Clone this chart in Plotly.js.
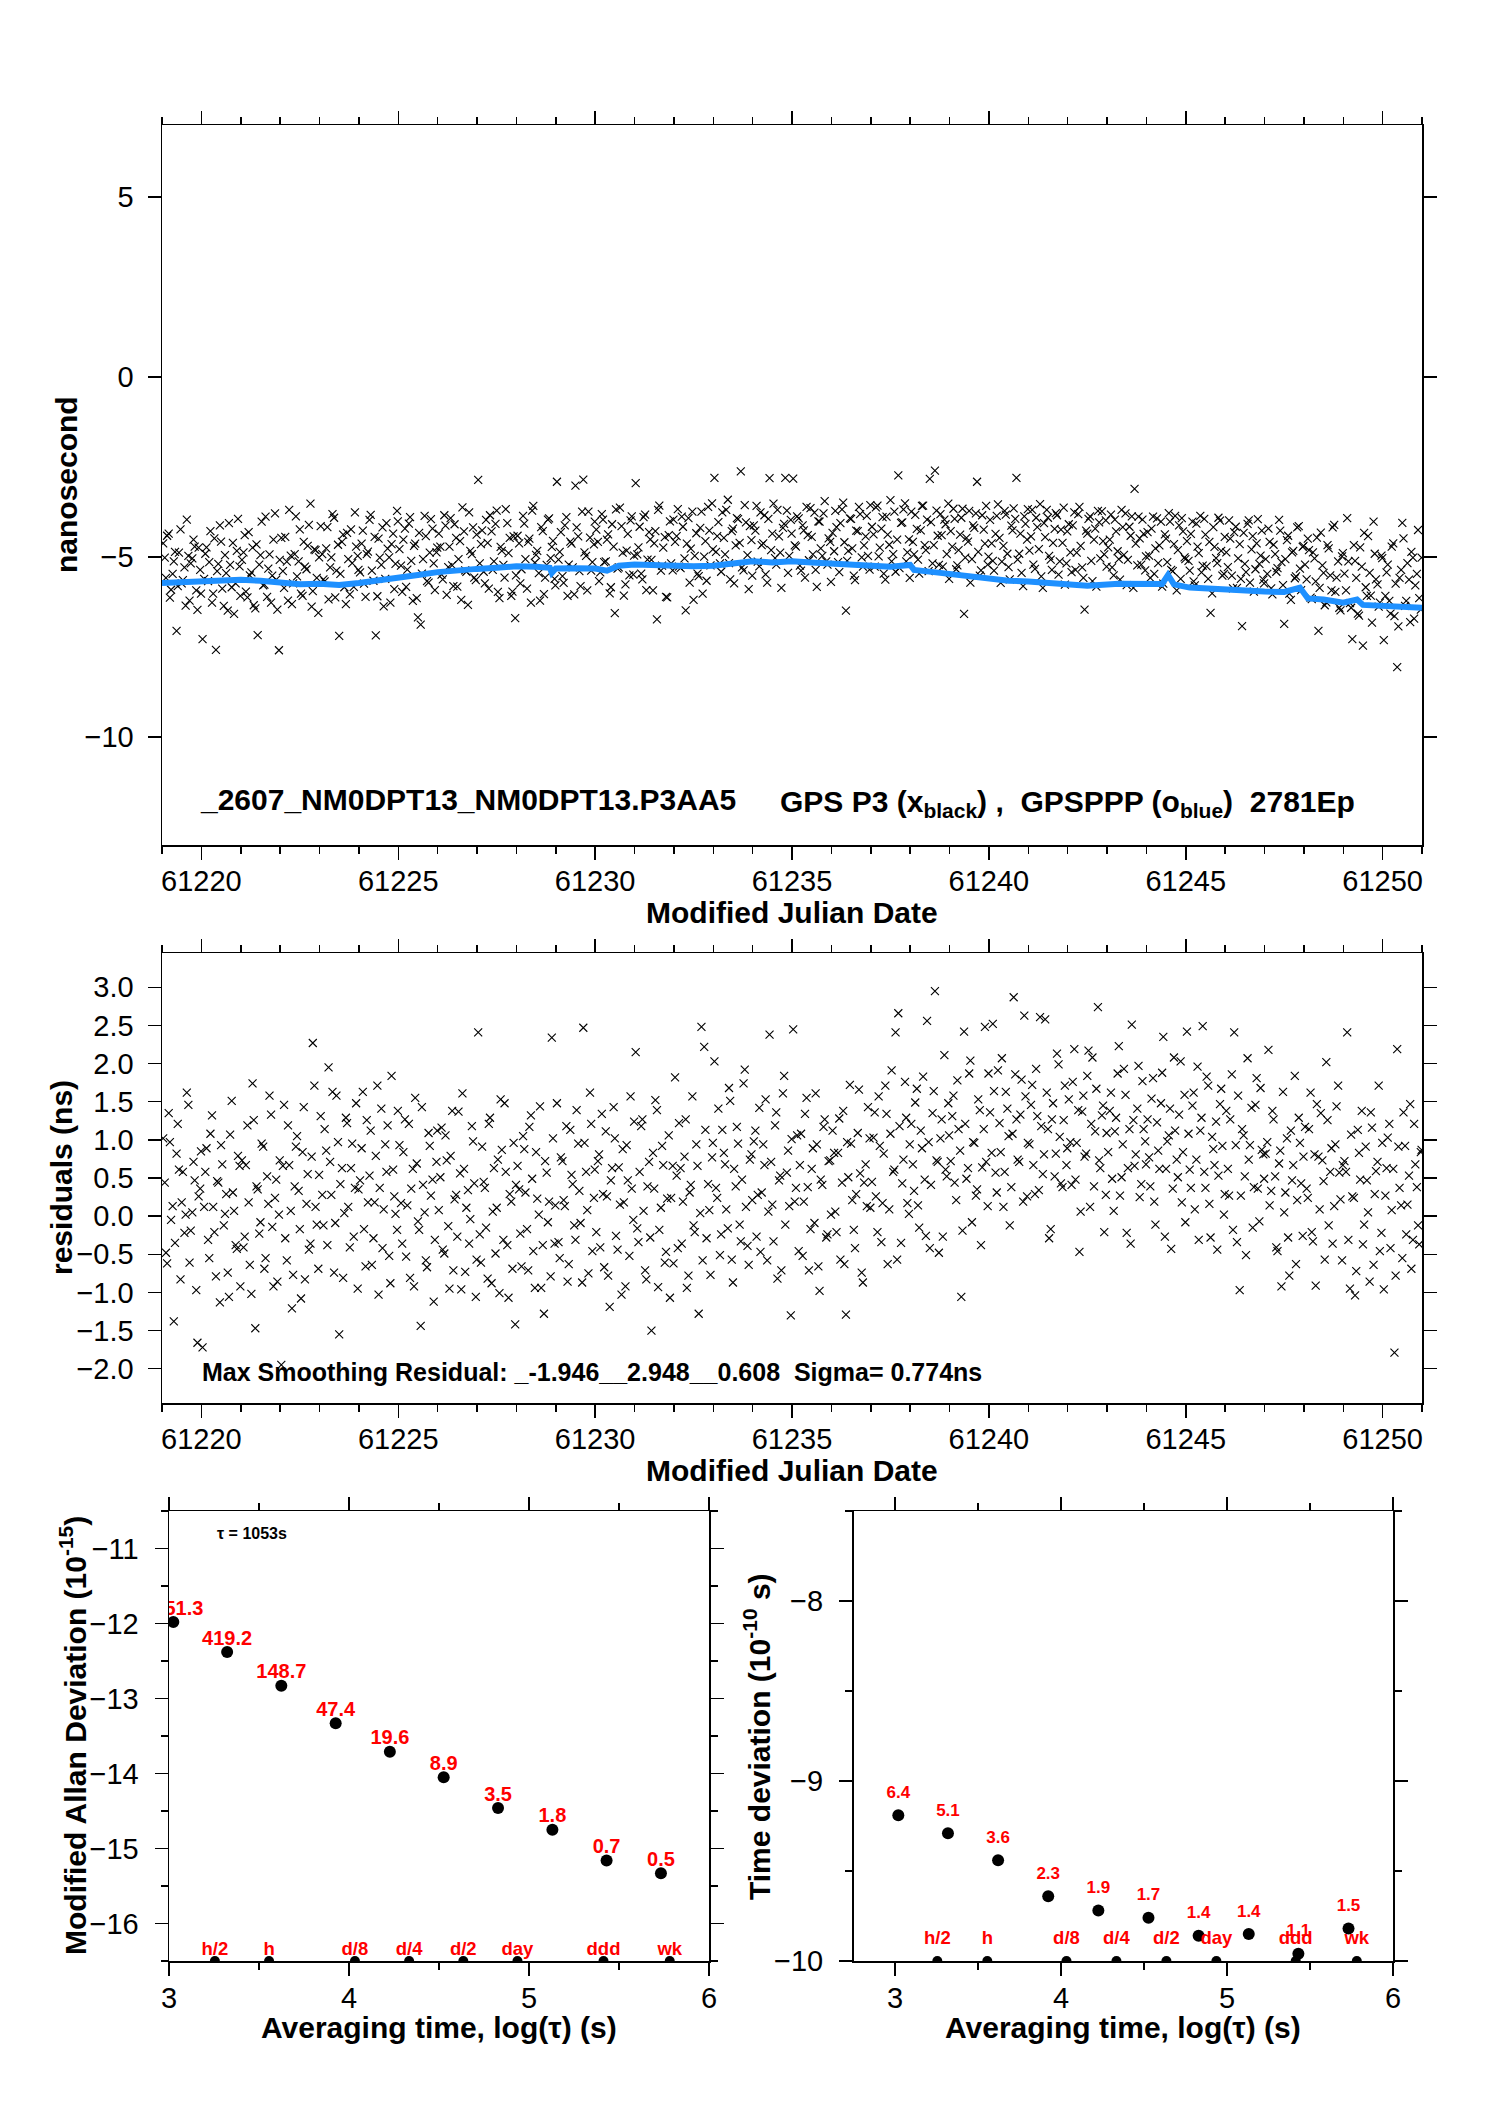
<!DOCTYPE html>
<html>
<head>
<meta charset="utf-8">
<script src="https://cdn.plot.ly/plotly-3.0.1.min.js"></script>
<style>
  html, body { margin: 0; padding: 0; background: #fff; }
  #chart { width: 1488px; height: 2105px; }
</style>
</head>
<body>
<div id="chart"></div>
<script>
// ---- epochs: one row per MJD day, two interleaved sets of 15 samples ----
var days = [61219, 61220, 61221, 61222, 61223, 61224, 61225, 61226, 61227, 61228, 61229,
            61230, 61231, 61232, 61233, 61234, 61235, 61236, 61237, 61238, 61239, 61240,
            61241, 61242, 61243, 61244, 61245, 61246, 61247, 61248, 61249, 61250];
var sampleFracA = [0.03, 0.10, 0.17, 0.23, 0.30, 0.37, 0.43, 0.50, 0.57, 0.63, 0.70, 0.77, 0.83, 0.90, 0.97];
var sampleFracB = [0.07, 0.13, 0.20, 0.27, 0.33, 0.40, 0.47, 0.53, 0.60, 0.67, 0.73, 0.80, 0.87, 0.93, 0.99];

// GPS P3 clock offsets (ns)
var p3RowsA = [
  [-4.62, -5.58, -4.35, -5.91, -5.12, -7.05, -4.88, -5.73, -5.29, -3.96, -6.21, -5.04, -4.71, -6.47, -5.36],
  [-7.28, -4.91, -5.67, -4.28, -6.02, -7.58, -5.19, -4.57, -6.36, -5.45, -4.06, -5.84, -6.58, -4.83, -5.26],
  [-5.08, -4.39, -6.12, -5.51, -4.74, -6.43, -7.17, -4.95, -5.79, -3.88, -5.32, -6.27, -4.52, -5.63, -7.59],
  [-4.47, -5.86, -5.13, -3.69, -6.31, -4.92, -5.54, -4.23, -6.08, -5.27, -4.69, -3.52, -5.95, -4.81, -6.55],
  [-4.14, -5.62, -4.76, -6.18, -5.01, -3.91, -5.38, -7.19, -4.58, -5.84, -4.33, -6.04, -5.17, -3.76, -4.97],
  [-5.43, -4.27, -6.11, -4.85, -3.83, -5.66, -7.18, -4.49, -5.22, -6.37, -4.06, -5.01, -4.64, -5.89, -3.72],
  [-4.78, -5.97, -4.21, -5.35, -3.89, -6.22, -4.63, -6.68, -6.88, -5.06, -4.42, -5.71, -3.95, -5.18, -4.87],
  [-4.35, -5.49, -3.84, -6.05, -4.71, -5.23, -4.09, -5.82, -4.56, -3.62, -5.37, -6.33, -4.83, -4.18, -5.64],
  [-2.86, -4.64, -5.41, -3.97, -5.88, -4.29, -5.12, -3.71, -6.14, -4.83, -5.57, -4.06, -4.47, -5.96, -6.70],
  [-4.41, -5.73, -3.86, -5.06, -4.58, -6.27, -3.58, -4.94, -5.45, -4.17, -6.03, -5.22, -3.93, -4.72, -5.61],
  [-2.91, -4.86, -5.53, -4.12, -6.08, -4.57, -5.29, -3.02, -4.43, -5.81, -2.85, -4.97, -3.74, -5.38, -4.65],
  [-4.24, -5.67, -3.81, -5.14, -4.52, -6.01, -4.09, -6.56, -5.32, -3.63, -4.88, -5.76, -4.36, -3.98, -5.49],
  [-2.95, -4.73, -5.46, -3.89, -5.92, -4.31, -5.08, -4.62, -6.73, -3.57, -5.24, -4.45, -6.12, -4.01, -5.37],
  [-4.58, -3.67, -5.31, -4.16, -6.48, -3.92, -4.77, -6.19, -4.34, -5.53, -3.74, -4.99, -5.66, -4.27, -3.51],
  [-2.80, -4.42, -5.18, -3.76, -4.93, -3.41, -5.62, -4.21, -4.68, -3.95, -2.62, -5.37, -4.04, -5.89, -4.53],
  [-4.12, -3.58, -5.26, -4.67, -3.84, -5.71, -2.81, -4.35, -5.03, -3.69, -4.88, -4.19, -2.80, -5.44, -3.97],
  [-2.82, -4.71, -3.93, -5.38, -4.26, -3.61, -5.09, -4.44, -3.77, -5.83, -4.02, -4.97, -3.45, -5.21, -4.58],
  [-4.33, -3.72, -5.14, -4.06, -3.49, -6.49, -4.83, -3.94, -5.52, -4.27, -3.61, -5.01, -4.68, -3.86, -5.35],
  [-4.16, -5.27, -3.57, -4.74, -3.89, -5.63, -4.38, -3.42, -4.92, -5.41, -2.73, -4.05, -3.68, -5.12, -4.51],
  [-3.74, -4.93, -4.22, -5.46, -3.58, -4.67, -3.96, -2.83, -5.18, -2.60, -4.41, -3.81, -5.27, -4.09, -3.52],
  [-4.28, -3.66, -5.34, -4.81, -3.91, -6.58, -4.47, -3.72, -5.06, -4.19, -2.91, -5.52, -3.84, -4.63, -5.21],
  [-3.97, -5.11, -4.36, -3.54, -5.72, -4.69, -3.82, -5.28, -4.13, -3.65, -2.80, -4.91, -5.44, -3.87, -4.52],
  [-4.82, -3.69, -5.33, -4.17, -3.53, -5.86, -4.45, -3.91, -5.07, -4.61, -3.78, -5.49, -4.24, -3.63, -5.18],
  [-4.09, -5.42, -3.76, -4.88, -3.61, -5.29, -6.46, -4.35, -3.87, -5.67, -4.21, -3.72, -5.04, -4.56, -3.98],
  [-4.73, -3.82, -5.51, -4.29, -5.06, -3.69, -4.94, -5.78, -4.16, -3.87, -3.11, -5.23, -4.48, -3.96, -5.37],
  [-4.31, -5.58, -3.88, -4.76, -5.17, -4.02, -5.74, -4.49, -3.78, -5.36, -4.64, -5.93, -4.12, -3.92, -5.01],
  [-4.56, -5.38, -4.02, -5.79, -4.71, -3.86, -5.24, -4.38, -5.61, -6.55, -4.17, -5.03, -3.91, -4.83, -5.47],
  [-4.87, -3.98, -5.52, -4.31, -5.86, -4.64, -6.92, -5.19, -4.08, -5.71, -4.42, -5.34, -3.95, -4.96, -5.63],
  [-5.06, -4.21, -5.87, -4.66, -5.41, -3.97, -5.14, -6.86, -4.53, -6.02, -4.87, -5.59, -4.18, -5.32, -4.72],
  [-5.21, -4.49, -6.13, -4.87, -5.68, -7.05, -4.32, -5.44, -6.26, -4.76, -5.93, -4.11, -5.57, -6.41, -4.98],
  [-5.46, -3.92, -6.28, -7.28, -5.11, -6.57, -4.73, -7.46, -5.84, -4.42, -6.07, -4.02, -5.62, -6.38, -4.96],
  [-7.31, -5.43, -6.22, -4.71, -6.64, -8.06, -5.58, -4.05, -6.36, -5.17, -6.81, -5.02, -5.79, -4.25, -6.46]
];
var p3RowsB = [
  [-5.02, -4.41, -6.13, -5.47, -4.86, -5.81, -4.23, -5.64, -6.35, -4.97, -5.18, -4.52, -5.93, -4.74, -6.02],
  [-5.61, -4.73, -5.14, -6.27, -4.48, -5.39, -4.12, -5.88, -4.95, -6.49, -5.22, -4.61, -5.73, -3.94, -6.08],
  [-4.87, -5.96, -4.31, -5.43, -6.34, -4.65, -5.21, -4.02, -5.77, -6.11, -4.93, -5.52, -3.79, -6.46, -5.08],
  [-5.39, -4.44, -6.21, -4.96, -5.73, -3.87, -5.12, -6.02, -4.58, -5.34, -4.11, -6.38, -4.79, -5.58, -5.01],
  [-4.92, -5.68, -4.17, -5.29, -3.81, -6.12, -4.66, -5.47, -4.38, -6.31, -5.06, -4.23, -5.83, -4.71, -5.36],
  [-4.63, -5.74, -4.92, -3.97, -5.38, -4.44, -6.09, -5.02, -4.18, -5.61, -4.77, -6.27, -4.35, -5.19, -4.01],
  [-5.24, -4.52, -5.83, -4.07, -5.11, -4.69, -6.14, -4.33, -5.46, -3.86, -5.67, -4.88, -4.21, -5.92, -4.74],
  [-4.71, -5.62, -4.13, -5.28, -3.92, -5.81, -4.47, -5.06, -6.19, -4.29, -5.41, -3.76, -4.92, -5.57, -4.38],
  [-5.18, -4.26, -5.73, -4.61, -3.84, -5.36, -4.08, -5.97, -4.72, -5.22, -3.67, -4.89, -6.08, -4.43, -5.51],
  [-4.62, -5.34, -4.07, -5.88, -4.49, -3.71, -5.16, -4.83, -6.21, -4.28, -5.57, -3.96, -5.03, -4.55, -5.79],
  [-5.07, -4.31, -5.72, -3.89, -5.21, -4.63, -6.04, -4.18, -5.39, -3.74, -4.87, -5.93, -4.46, -5.14, -4.02],
  [-4.58, -5.43, -3.96, -5.12, -4.37, -5.84, -4.71, -3.68, -5.29, -4.14, -6.07, -4.82, -5.51, -3.87, -4.96],
  [-4.93, -4.16, -5.62, -3.82, -5.07, -4.51, -5.93, -4.28, -3.69, -5.38, -4.74, -6.11, -4.39, -5.18, -3.96],
  [-4.42, -5.27, -3.88, -5.04, -4.63, -5.71, -3.74, -4.97, -5.46, -4.19, -6.02, -4.56, -3.61, -5.23, -4.79],
  [-4.86, -4.03, -5.41, -4.47, -3.69, -5.17, -4.28, -5.73, -3.92, -4.61, -5.29, -3.56, -4.95, -4.14, -5.52],
  [-4.27, -5.13, -3.76, -4.62, -5.48, -3.94, -4.81, -3.52, -5.21, -4.43, -5.86, -4.08, -3.71, -4.97, -4.35],
  [-4.68, -3.87, -5.24, -4.12, -5.57, -4.39, -3.64, -4.93, -5.36, -4.01, -4.76, -3.79, -5.12, -4.48, -5.69],
  [-4.84, -4.17, -5.42, -3.68, -4.59, -5.11, -3.93, -4.76, -5.64, -4.28, -3.81, -5.27, -4.43, -4.97, -3.56],
  [-4.37, -3.62, -4.98, -4.21, -5.46, -3.88, -4.66, -5.12, -3.74, -4.52, -5.31, -4.04, -3.51, -4.87, -5.58],
  [-4.58, -3.83, -5.07, -4.26, -3.57, -4.81, -5.39, -4.03, -4.67, -3.71, -5.22, -4.39, -3.96, -4.92, -5.61],
  [-4.71, -3.94, -5.23, -4.38, -3.66, -5.02, -4.57, -5.71, -4.12, -3.79, -4.86, -5.37, -4.24, -3.58, -4.99],
  [-4.62, -5.38, -3.86, -4.47, -5.13, -3.72, -4.91, -5.62, -4.26, -3.94, -5.07, -4.35, -5.81, -4.08, -3.67],
  [-4.43, -5.21, -3.91, -4.78, -5.54, -4.06, -3.69, -4.97, -5.36, -4.22, -3.84, -5.12, -4.61, -5.77, -4.29],
  [-4.87, -4.12, -5.36, -3.81, -4.69, -5.58, -4.27, -3.94, -5.11, -4.52, -5.82, -4.04, -3.73, -4.93, -5.27],
  [-4.52, -5.29, -3.96, -4.84, -5.63, -4.17, -3.79, -5.08, -4.41, -5.86, -4.63, -3.88, -5.21, -4.36, -4.98],
  [-4.96, -4.21, -5.47, -3.93, -4.68, -5.82, -4.37, -5.14, -4.02, -5.39, -3.86, -4.81, -5.61, -4.29, -5.06],
  [-5.11, -4.36, -5.68, -4.07, -4.89, -5.43, -3.94, -5.26, -4.58, -6.01, -4.72, -5.17, -3.99, -5.52, -4.44],
  [-5.28, -4.49, -5.87, -4.16, -5.04, -5.61, -4.33, -5.42, -3.98, -4.79, -5.96, -4.62, -5.19, -4.27, -5.73],
  [-5.47, -4.58, -6.04, -4.92, -5.31, -4.27, -5.78, -5.06, -4.41, -6.19, -4.83, -5.54, -4.14, -5.92, -4.69],
  [-5.62, -4.81, -6.17, -5.04, -4.46, -5.86, -5.23, -6.34, -4.67, -5.51, -4.18, -5.97, -5.12, -6.48, -4.89],
  [-5.93, -5.12, -6.41, -4.67, -5.58, -6.63, -5.27, -4.33, -6.08, -5.44, -6.82, -4.91, -5.76, -6.27, -5.03],
  [-6.08, -5.21, -6.57, -4.62, -5.74, -6.93, -5.36, -4.48, -6.22, -5.63, -4.86, -6.71, -5.47, -6.14, -5.02]
];

// smoothing residuals (ns)
var residRowsA = [
  [1.02, -0.48, 1.35, -0.05, -1.38, 0.82, 0.61, 0.18, -0.22, 1.62, -0.61, 0.05, 0.47, -1.66, 0.36],
  [-1.72, 0.58, -0.31, 1.08, 0.12, -0.79, 0.44, 0.93, -0.12, 0.29, -1.06, 1.51, 0.07, -0.43, 0.66],
  [0.73, -0.27, 1.19, -0.64, 1.74, -1.47, 0.35, -0.08, 0.91, -0.55, 0.16, 1.33, -0.92, 0.48, 0.02],
  [-1.95, 1.46, -0.58, 0.67, -1.21, 0.39, 1.05, -0.17, 0.84, -0.83, 0.55, -0.36, 2.27, 0.12, -0.69],
  [1.31, -0.12, 0.86, 1.95, 0.28, -0.74, 1.58, -1.55, 0.63, 0.04, 1.22, -0.41, 0.95, 0.37, -0.95],
  [0.47, 1.63, -0.66, 0.18, 1.12, -0.29, 0.79, -1.03, 1.41, 0.09, 0.58, -0.52, 1.84, 0.26, -0.18],
  [0.93, -0.36, 1.27, 0.14, -0.81, 0.62, 1.55, -0.07, -1.44, 0.41, -0.58, 1.09, 0.27, -1.12, 0.71],
  [0.08, 1.16, -0.49, 0.73, -0.95, 1.38, 0.22, -0.27, 0.56, 1.61, -0.73, 0.34, -0.04, 0.98, -1.06],
  [2.41, -0.61, 0.45, -0.15, 1.21, -0.88, 0.63, 0.11, -1.01, 0.87, 1.48, -0.38, 0.29, -0.69, -1.42],
  [0.66, -0.23, 1.05, 0.31, -0.71, 1.32, -0.46, 0.84, 0.02, -0.94, -1.28, 0.57, 0.19, 2.34, -0.36],
  [1.48, -0.55, 0.72, 0.13, -0.86, 1.13, 0.42, -0.31, 0.95, -0.09, 2.47, 0.58, -0.75, 1.21, 0.24],
  [-0.21, 0.81, 1.34, -0.67, 0.26, -1.19, 0.63, 1.02, -0.44, 0.15, 0.88, -0.92, 0.47, 1.57, -0.05],
  [2.15, -0.34, 1.18, 0.07, -0.83, 0.71, -1.50, 0.36, 1.39, -0.18, 0.92, -0.61, 0.23, -1.07, 0.66],
  [1.82, -0.42, 0.63, 0.19, 1.27, -0.78, 0.41, -0.12, 0.94, -1.28, 2.48, 2.22, -0.29, 0.08, 0.77],
  [2.03, 0.24, -0.51, 1.13, 0.68, -0.16, 1.51, -0.87, 0.39, 0.95, -0.33, 1.74, 0.12, -0.64, 0.81],
  [0.98, -0.27, 1.42, 0.31, 0.67, -0.58, 2.38, 0.15, 1.19, -0.82, 0.53, 1.61, -0.11, 0.86, -1.30],
  [2.45, 0.37, -0.46, 1.08, 0.19, 1.55, -0.71, 0.62, -0.09, 0.94, -0.98, 0.41, 1.27, -0.24, 0.73],
  [1.12, 0.06, 0.83, -0.57, 1.38, -1.29, 0.51, 0.95, -0.18, 0.29, 1.66, -0.74, 0.44, 0.13, 1.02],
  [0.45, 1.36, -0.21, 0.92, 0.17, 1.71, -0.63, 1.08, 0.58, 2.41, 2.66, -0.35, 0.74, 1.29, 0.03],
  [1.21, 0.33, 1.67, -0.15, 0.89, 0.48, 2.56, -0.42, 1.35, 2.95, 0.71, 1.02, -0.27, 0.61, 1.48],
  [0.72, 1.58, 0.21, 1.14, -1.06, 2.42, 0.49, 1.87, -0.08, 0.96, 0.35, 1.39, 0.64, 2.48, 0.13],
  [1.36, 2.52, 0.57, 1.91, 0.84, 0.12, 1.63, 1.05, 0.38, 2.87, 1.27, 0.71, 1.79, 2.63, 0.26],
  [0.94, 1.72, 0.29, 1.31, 2.61, 0.55, 2.58, 1.14, -0.17, 1.48, 0.82, 1.99, 0.43, 1.26, 0.67],
  [1.53, 0.41, 2.19, 0.96, -0.47, 1.37, 0.78, 1.84, 0.12, 2.08, 1.11, 2.74, 0.63, 1.45, 0.28],
  [0.84, 1.62, 0.07, 1.29, 2.23, 0.51, 1.93, -0.22, 1.14, 2.51, 0.66, 1.41, 0.25, 1.77, 0.98],
  [1.27, 0.39, 1.81, -0.11, 0.86, 1.48, 2.35, 0.62, 1.06, -0.43, 2.08, 0.74, 1.33, 0.18, 1.59],
  [2.42, 0.61, 1.45, 0.09, 1.96, 1.12, 2.49, 0.37, 1.71, -0.28, 0.88, 1.24, 0.53, 1.67, 0.02],
  [1.38, 0.27, 1.86, 2.41, -0.34, -0.97, 1.14, 0.52, 2.07, 0.93, -0.15, 1.46, 0.36, 1.68, 0.81],
  [0.82, 2.18, 0.33, 1.27, -0.41, 0.69, -0.92, 0.05, 1.02, -0.78, 0.47, 1.84, 0.21, 0.96, -0.26],
  [1.17, 0.24, 1.62, -0.33, -0.91, 0.78, 1.35, 0.46, 2.02, -0.12, 0.89, 0.13, 1.44, 0.57, -0.58],
  [0.72, 2.41, -0.95, 0.26, -1.04, 1.13, 0.48, -0.37, 0.91, 0.05, 1.36, -0.64, 0.59, 1.71, -0.22],
  [-0.96, 0.63, 1.21, 0.08, -1.79, 2.19, 0.37, -0.55, 0.92, 0.15, 1.47, -0.31, 0.68, -0.12, 0.84]
];
var residRowsB = [
  [0.44, -0.62, 0.97, 0.13, -0.35, 1.21, -0.83, 0.58, 0.02, 1.46, -0.19, 0.71, -0.97, 0.26, 0.85],
  [0.12, 0.89, -0.55, 1.32, -0.21, 0.46, -1.13, 0.68, 0.03, -0.74, 1.07, 0.31, -0.38, 0.79, -0.92],
  [-0.41, 0.67, 0.18, -1.02, 1.26, 0.39, -0.23, 0.95, -0.69, 0.52, 1.58, -0.14, 0.24, -0.86, 0.73],
  [0.66, -0.29, 1.19, 0.07, -0.77, 0.91, 0.33, -1.08, 1.43, 0.16, -0.44, 0.78, 1.71, -0.11, 0.54],
  [0.28, 1.14, -0.38, 0.71, 1.63, -0.09, 0.97, 0.42, -0.81, 1.29, 0.12, 0.63, -0.27, 1.48, 0.35],
  [0.89, -0.17, 1.26, 0.53, -0.64, 0.18, 1.71, 0.37, -0.42, 0.94, 1.19, -0.88, 0.61, 0.03, 1.38],
  [0.17, 0.84, -0.53, 1.21, 0.36, -0.92, 0.69, -0.18, 1.43, 0.05, -0.67, 0.92, 0.48, -0.31, 1.12],
  [0.51, -0.44, 1.06, -0.13, 0.79, -0.71, 0.28, 1.37, -0.96, 0.62, 0.11, -0.36, 1.18, 0.43, -0.57],
  [-0.24, 0.91, 0.37, -0.82, 1.29, 0.06, -0.49, 0.74, 1.53, -0.31, 0.58, -1.07, 0.19, 0.96, 0.41],
  [0.35, -0.66, 0.88, -0.17, 1.17, 0.49, -0.94, 0.23, 1.44, -0.38, 0.72, -0.08, -0.79, 1.02, 0.14],
  [-0.34, 0.77, 0.21, 1.18, -0.63, 0.54, -0.12, 1.39, 0.33, -0.87, 0.96, 0.08, 1.62, -0.46, 0.61],
  [0.72, -0.41, 0.29, 1.11, -0.78, 0.47, 1.43, -0.26, 0.64, -1.03, 0.18, 0.93, -0.52, 0.36, 1.24],
  [-0.16, 0.58, 1.27, -0.71, 0.39, -0.28, 0.83, 1.52, -0.93, 0.11, 0.67, -0.47, 1.06, 0.24, -0.62],
  [0.53, 1.22, -0.36, 0.78, -0.94, 0.31, 1.57, -0.21, 0.66, 0.04, -0.58, 1.13, 0.42, -0.77, 0.96],
  [0.37, 1.41, -0.24, 0.83, 0.09, 1.68, -0.57, 0.62, 1.17, -0.11, 0.48, 1.92, -0.39, 0.74, 0.21],
  [1.12, 0.28, -0.47, 0.94, 1.53, 0.06, 0.71, -0.33, 1.36, 0.47, -0.71, 1.84, 0.57, 0.13, 1.01],
  [0.19, 1.06, 0.67, -0.52, 1.34, 0.38, -0.17, 0.89, 1.61, -0.66, 0.48, 1.17, -0.28, 0.72, 0.02],
  [0.83, -0.21, 1.28, 0.44, -0.63, 0.97, 1.72, 0.21, -0.42, 1.09, 0.56, -0.87, 0.68, 1.43, 0.11],
  [1.03, 0.26, 1.57, -0.34, 0.82, 1.34, 0.09, 1.91, 0.61, -0.57, 1.18, 0.43, 1.76, 0.17, 0.94],
  [0.68, 1.49, 0.14, 1.12, 1.83, -0.26, 0.97, 0.41, 1.64, 0.73, -0.48, 1.27, 2.11, 0.52, 1.06],
  [1.31, 0.44, 1.78, 0.86, -0.19, 1.21, 0.63, 2.04, 0.97, 0.27, 1.53, -0.38, 1.14, 0.71, 1.87],
  [0.83, 1.64, 0.31, 1.22, 2.07, 0.58, 1.41, -0.12, 1.08, 1.86, 0.74, 1.33, 0.19, 1.57, 0.96],
  [1.46, 0.67, 1.93, 0.34, 1.18, 0.81, 1.62, -0.29, 1.27, 0.52, 2.13, 1.04, 0.38, 1.71, 0.89],
  [0.97, 1.76, 0.48, 1.39, 0.06, 1.58, 0.82, 2.17, 1.21, 0.39, 1.67, 0.73, 1.32, -0.21, 1.09],
  [1.38, 0.49, 1.11, 1.87, 0.27, 0.94, 1.59, 0.63, -0.36, 1.26, 0.81, 1.97, 0.42, 1.14, 0.68],
  [0.77, 1.54, 0.19, 1.23, 0.62, 1.88, -0.27, 0.98, 1.41, 0.36, 1.12, 0.51, 2.03, 0.84, -0.08],
  [1.08, 0.37, 1.62, 0.74, -0.31, 1.29, 0.58, 1.83, 0.16, 1.04, 0.67, -0.44, 1.47, 0.92, 0.29],
  [0.62, 1.27, -0.18, 0.93, 1.58, 0.27, 1.06, -0.51, 0.74, 1.42, 0.38, 1.81, -0.07, 0.87, 0.49],
  [0.97, 0.14, 1.38, 0.52, -0.46, 0.86, 1.63, 0.31, -0.28, 1.12, 0.67, -0.63, 1.29, 0.43, 0.78],
  [0.36, 1.14, -0.21, 0.81, 1.47, 0.09, 0.73, -0.57, 1.26, 0.58, -0.36, 0.94, 1.71, 0.22, 0.67],
  [0.58, -0.31, 1.07, 0.24, -0.72, 0.83, 1.38, -0.11, 0.47, -0.86, 1.16, 0.29, 0.71, -0.46, 0.96],
  [0.27, 1.03, -0.42, 0.62, -0.78, 0.91, 0.14, 1.36, -0.24, 0.53, -0.69, 1.21, 0.38, -0.37, 0.87]
];

// GPSPPP solution (blue), vertices
var pppMjd = [61219.0, 61219.5, 61220.0, 61220.5, 61221.0, 61221.5, 61222.0, 61222.5, 61223.0, 61223.5,
              61224.0, 61224.5, 61225.0, 61225.5, 61226.0, 61226.5, 61227.0, 61227.5, 61228.0, 61228.5,
              61228.85, 61228.9, 61229.0, 61229.5, 61230.0, 61230.3, 61230.6, 61231.0, 61231.5, 61232.0,
              61232.5, 61233.0, 61233.5, 61234.0, 61234.5, 61235.0, 61235.5, 61236.0, 61236.5, 61237.0,
              61237.5, 61238.0, 61238.1, 61238.6, 61239.0, 61239.5, 61240.0, 61240.5, 61241.0, 61241.5,
              61242.0, 61242.5, 61243.3, 61244.4, 61244.55, 61244.7, 61245.1, 61245.5, 61246.4, 61247.0,
              61247.5, 61247.9, 61248.1, 61248.5, 61249.0, 61249.35, 61249.5, 61250.0, 61250.5, 61251.0];
var pppNs = [-5.72, -5.70, -5.66, -5.62, -5.63, -5.66, -5.70, -5.76, -5.74, -5.78,
             -5.72, -5.66, -5.59, -5.50, -5.42, -5.36, -5.33, -5.30, -5.26, -5.27,
             -5.30, -5.44, -5.32, -5.31, -5.32, -5.38, -5.24, -5.21, -5.24, -5.25,
             -5.26, -5.24, -5.16, -5.12, -5.15, -5.12, -5.15, -5.17, -5.20, -5.25,
             -5.27, -5.22, -5.36, -5.42, -5.47, -5.55, -5.63, -5.66, -5.68, -5.72,
             -5.78, -5.80, -5.74, -5.75, -5.50, -5.76, -5.85, -5.88, -5.93, -5.96,
             -5.97, -5.85, -6.15, -6.18, -6.27, -6.18, -6.33, -6.36, -6.38, -6.41];

// stability (log10 values)
var adevTau = [3.024, 3.323, 3.624, 3.926, 4.227, 4.526, 4.828, 5.130, 5.431, 5.733];
var adevLog = [-11.98, -12.38, -12.83, -13.33, -13.71, -14.05, -14.46, -14.75, -15.16, -15.33];
var adevLabel = ['1151.3', '419.2', '148.7', '47.4', '19.6', '8.9', '3.5', '1.8', '0.7', '0.5'];

var tdevTau = [3.020, 3.319, 3.621, 3.923, 4.225, 4.527, 4.829, 5.131, 5.430, 5.732];
var tdevLog = [-9.19, -9.29, -9.44, -9.64, -9.72, -9.76, -9.86, -9.85, -9.96, -9.82];
var tdevLabel = ['6.4', '5.1', '3.6', '2.3', '1.9', '1.7', '1.4', '1.4', '1.1', '1.5'];

var markTau = [3.255, 3.556, 4.033, 4.334, 4.635, 4.936, 5.414, 5.782];
var markLabel = ['h/2', 'h', 'd/8', 'd/4', 'd/2', 'day', 'ddd', 'wk'];

var adevRange = [-16.5, -10.5];
var tdevRange = [-10, -7.5];

// ---- flatten the day rows ----
var mjd = [], p3 = [], resid = [];
function addSet(frac, p3Rows, residRows) {
  days.forEach(function (d, i) {
    frac.forEach(function (f, k) {
      mjd.push(d + f);
      p3.push(p3Rows[i][k]);
      resid.push(residRows[i][k]);
    });
  });
}
addSet(sampleFracA, p3RowsA, residRowsA);
addSet(sampleFracB, p3RowsB, residRowsB);

// ---- page geometry (pixels) ----
var W = 1488, H = 2105;
function xdom(a, b) { return [a / W, b / W]; }
function ydom(top, bot) { return [1 - bot / H, 1 - top / H]; }
function px(x) { return x / W; }
function py(y) { return 1 - y / H; }

var FONT = 'Liberation Sans, Arial, Helvetica, sans-serif';

function axis(extra) {
  var a = {
    showline: true, linecolor: 'black', linewidth: 1.5, mirror: 'allticks',
    ticks: 'outside', ticklen: 13, tickwidth: 1.5, tickcolor: 'black',
    showgrid: false, zeroline: false, fixedrange: true,
    tickfont: { family: FONT, size: 29, color: 'black' }
  };
  for (var k in extra) a[k] = extra[k];
  return a;
}
function minor(step) {
  return { dtick: step, ticks: 'outside', ticklen: 7, tickwidth: 1.5, tickcolor: 'black', showgrid: false };
}

var cross = { symbol: 'x-thin', size: 8, color: 'black', line: { width: 1.1, color: 'black' } };
var redFont = function (s) { return { family: FONT, size: s, color: '#ff0000', weight: 'bold' }; };

var floorA = markTau.map(function () { return adevRange[0]; });
var floorT = markTau.map(function () { return tdevRange[0]; });

var data = [
  { x: mjd, y: p3, xaxis: 'x', yaxis: 'y', mode: 'markers', marker: cross, hoverinfo: 'skip' },
  { x: pppMjd, y: pppNs, xaxis: 'x', yaxis: 'y', mode: 'lines',
    line: { color: '#1e90ff', width: 6 }, hoverinfo: 'skip' },
  { x: mjd, y: resid, xaxis: 'x2', yaxis: 'y2', mode: 'markers', marker: cross, hoverinfo: 'skip' },

  // Allan deviation
  { x: adevTau, y: adevLog, xaxis: 'x3', yaxis: 'y3', mode: 'markers',
    marker: { size: 12, color: 'black' }, hoverinfo: 'skip' },
  { x: adevTau, y: adevLog, xaxis: 'x3', yaxis: 'y3', mode: 'markers+text', text: adevLabel,
    textposition: 'top center', textfont: redFont(20),
    marker: { size: 2.4, opacity: 0 }, cliponaxis: true, hoverinfo: 'skip' },
  { x: markTau, y: floorA, xaxis: 'x3', yaxis: 'y3', mode: 'markers',
    marker: { size: 10, color: 'black' }, cliponaxis: true, hoverinfo: 'skip' },
  { x: markTau, y: floorA, xaxis: 'x3', yaxis: 'y3', mode: 'markers+text', text: markLabel,
    textposition: 'top center', textfont: redFont(18.5),
    marker: { size: 1.2, opacity: 0 }, cliponaxis: true, hoverinfo: 'skip' },

  // time deviation
  { x: tdevTau, y: tdevLog, xaxis: 'x4', yaxis: 'y4', mode: 'markers',
    marker: { size: 12, color: 'black' }, hoverinfo: 'skip' },
  { x: tdevTau, y: tdevLog, xaxis: 'x4', yaxis: 'y4', mode: 'markers+text', text: tdevLabel,
    textposition: 'top center', textfont: redFont(17),
    marker: { size: 19.4, opacity: 0 }, cliponaxis: true, hoverinfo: 'skip' },
  { x: markTau, y: floorT, xaxis: 'x4', yaxis: 'y4', mode: 'markers',
    marker: { size: 10, color: 'black' }, cliponaxis: true, hoverinfo: 'skip' },
  { x: markTau, y: floorT, xaxis: 'x4', yaxis: 'y4', mode: 'markers+text', text: markLabel,
    textposition: 'top center', textfont: redFont(18.5),
    marker: { size: 18.9, opacity: 0 }, cliponaxis: true, hoverinfo: 'skip' }
];

function note(text, x, y, size, opts) {
  var a = {
    text: text, xref: 'paper', yref: 'paper', x: px(x), y: py(y),
    showarrow: false, xanchor: 'center', yanchor: 'middle',
    font: { family: FONT, size: size, color: 'black', weight: 'bold' }
  };
  for (var k in (opts || {})) a[k] = opts[k];
  return a;
}
var sp = '\u00a0';

var annotations = [
  note('nanosecond', 66, 485, 30, { textangle: -90 }),
  note('Modified Julian Date', 792, 912, 30),
  note('_2607_NM0DPT13_NM0DPT13.P3AA5', 198, 799, 30, { xanchor: 'left' }),
  note('GPS P3 (x<sub>black</sub>)' + sp + ',' + sp + sp + 'GPSPPP (o<sub>blue</sub>)' + sp + sp + '2781Ep',
       778, 803, 30, { xanchor: 'left' }),

  note('residuals (ns)', 61, 1178, 30, { textangle: -90 }),
  note('Modified Julian Date', 792, 1470, 30),
  note('Max Smoothing Residual: _-1.946__2.948__0.608' + sp + sp + 'Sigma= 0.774ns',
       200, 1372, 25, { xanchor: 'left' }),

  note('Modified Allan Deviation (10<sup>-15</sup>)', 73, 1736, 30, { textangle: -90 }),
  note('Averaging time, log(\u03c4) (s)', 439, 2027, 30),
  note('\u03c4 = 1053s', 252, 1533, 16),

  note('Time deviation (10<sup>-10</sup> s)', 757, 1737, 30, { textangle: -90 }),
  note('Averaging time, log(\u03c4) (s)', 1123, 2027, 30)
];

var layout = {
  width: W, height: H,
  margin: { l: 0, r: 0, t: 0, b: 0 },
  paper_bgcolor: 'white', plot_bgcolor: 'white',
  showlegend: false,
  font: { family: FONT, color: 'black' },

  xaxis: axis({ domain: xdom(162, 1422), anchor: 'y', range: [61219, 61251],
                tick0: 61220, dtick: 5, tickformat: 'd', minor: minor(1), ticklabelstandoff: -3 }),
  yaxis: axis({ domain: ydom(125, 845), anchor: 'x', range: [-13, 7],
                tick0: 0, dtick: 5, ticklabelstandoff: 8 }),

  xaxis2: axis({ domain: xdom(162, 1422), anchor: 'y2', range: [61219, 61251],
                 tick0: 61220, dtick: 5, tickformat: 'd', minor: minor(1), ticklabelstandoff: -3 }),
  yaxis2: axis({ domain: ydom(953, 1403), anchor: 'x2', range: [-2.45, 3.45],
                 tick0: 0, dtick: 0.5, tickformat: '.1f', ticklabelstandoff: 8 }),

  xaxis3: axis({ domain: xdom(169, 709), anchor: 'y3', range: [3, 6],
                 tick0: 3, dtick: 1, minor: minor(0.5), ticklabelstandoff: -2 }),
  yaxis3: axis({ domain: ydom(1511, 1961), anchor: 'x3', range: adevRange,
                 tick0: -16, dtick: 1, minor: minor(0.5), ticklabelstandoff: 10 }),

  xaxis4: axis({ domain: xdom(853.5, 1393), anchor: 'y4', range: [2.75, 6],
                 tick0: 3, dtick: 1, minor: minor(0.5), ticklabelstandoff: -2 }),
  yaxis4: axis({ domain: ydom(1511, 1961), anchor: 'x4', range: tdevRange,
                 tick0: -10, dtick: 1, minor: minor(0.5), ticklabelstandoff: 10 }),

  annotations: annotations
};

Plotly.newPlot('chart', data, layout, { staticPlot: true, displayModeBar: false });
</script>
</body>
</html>
